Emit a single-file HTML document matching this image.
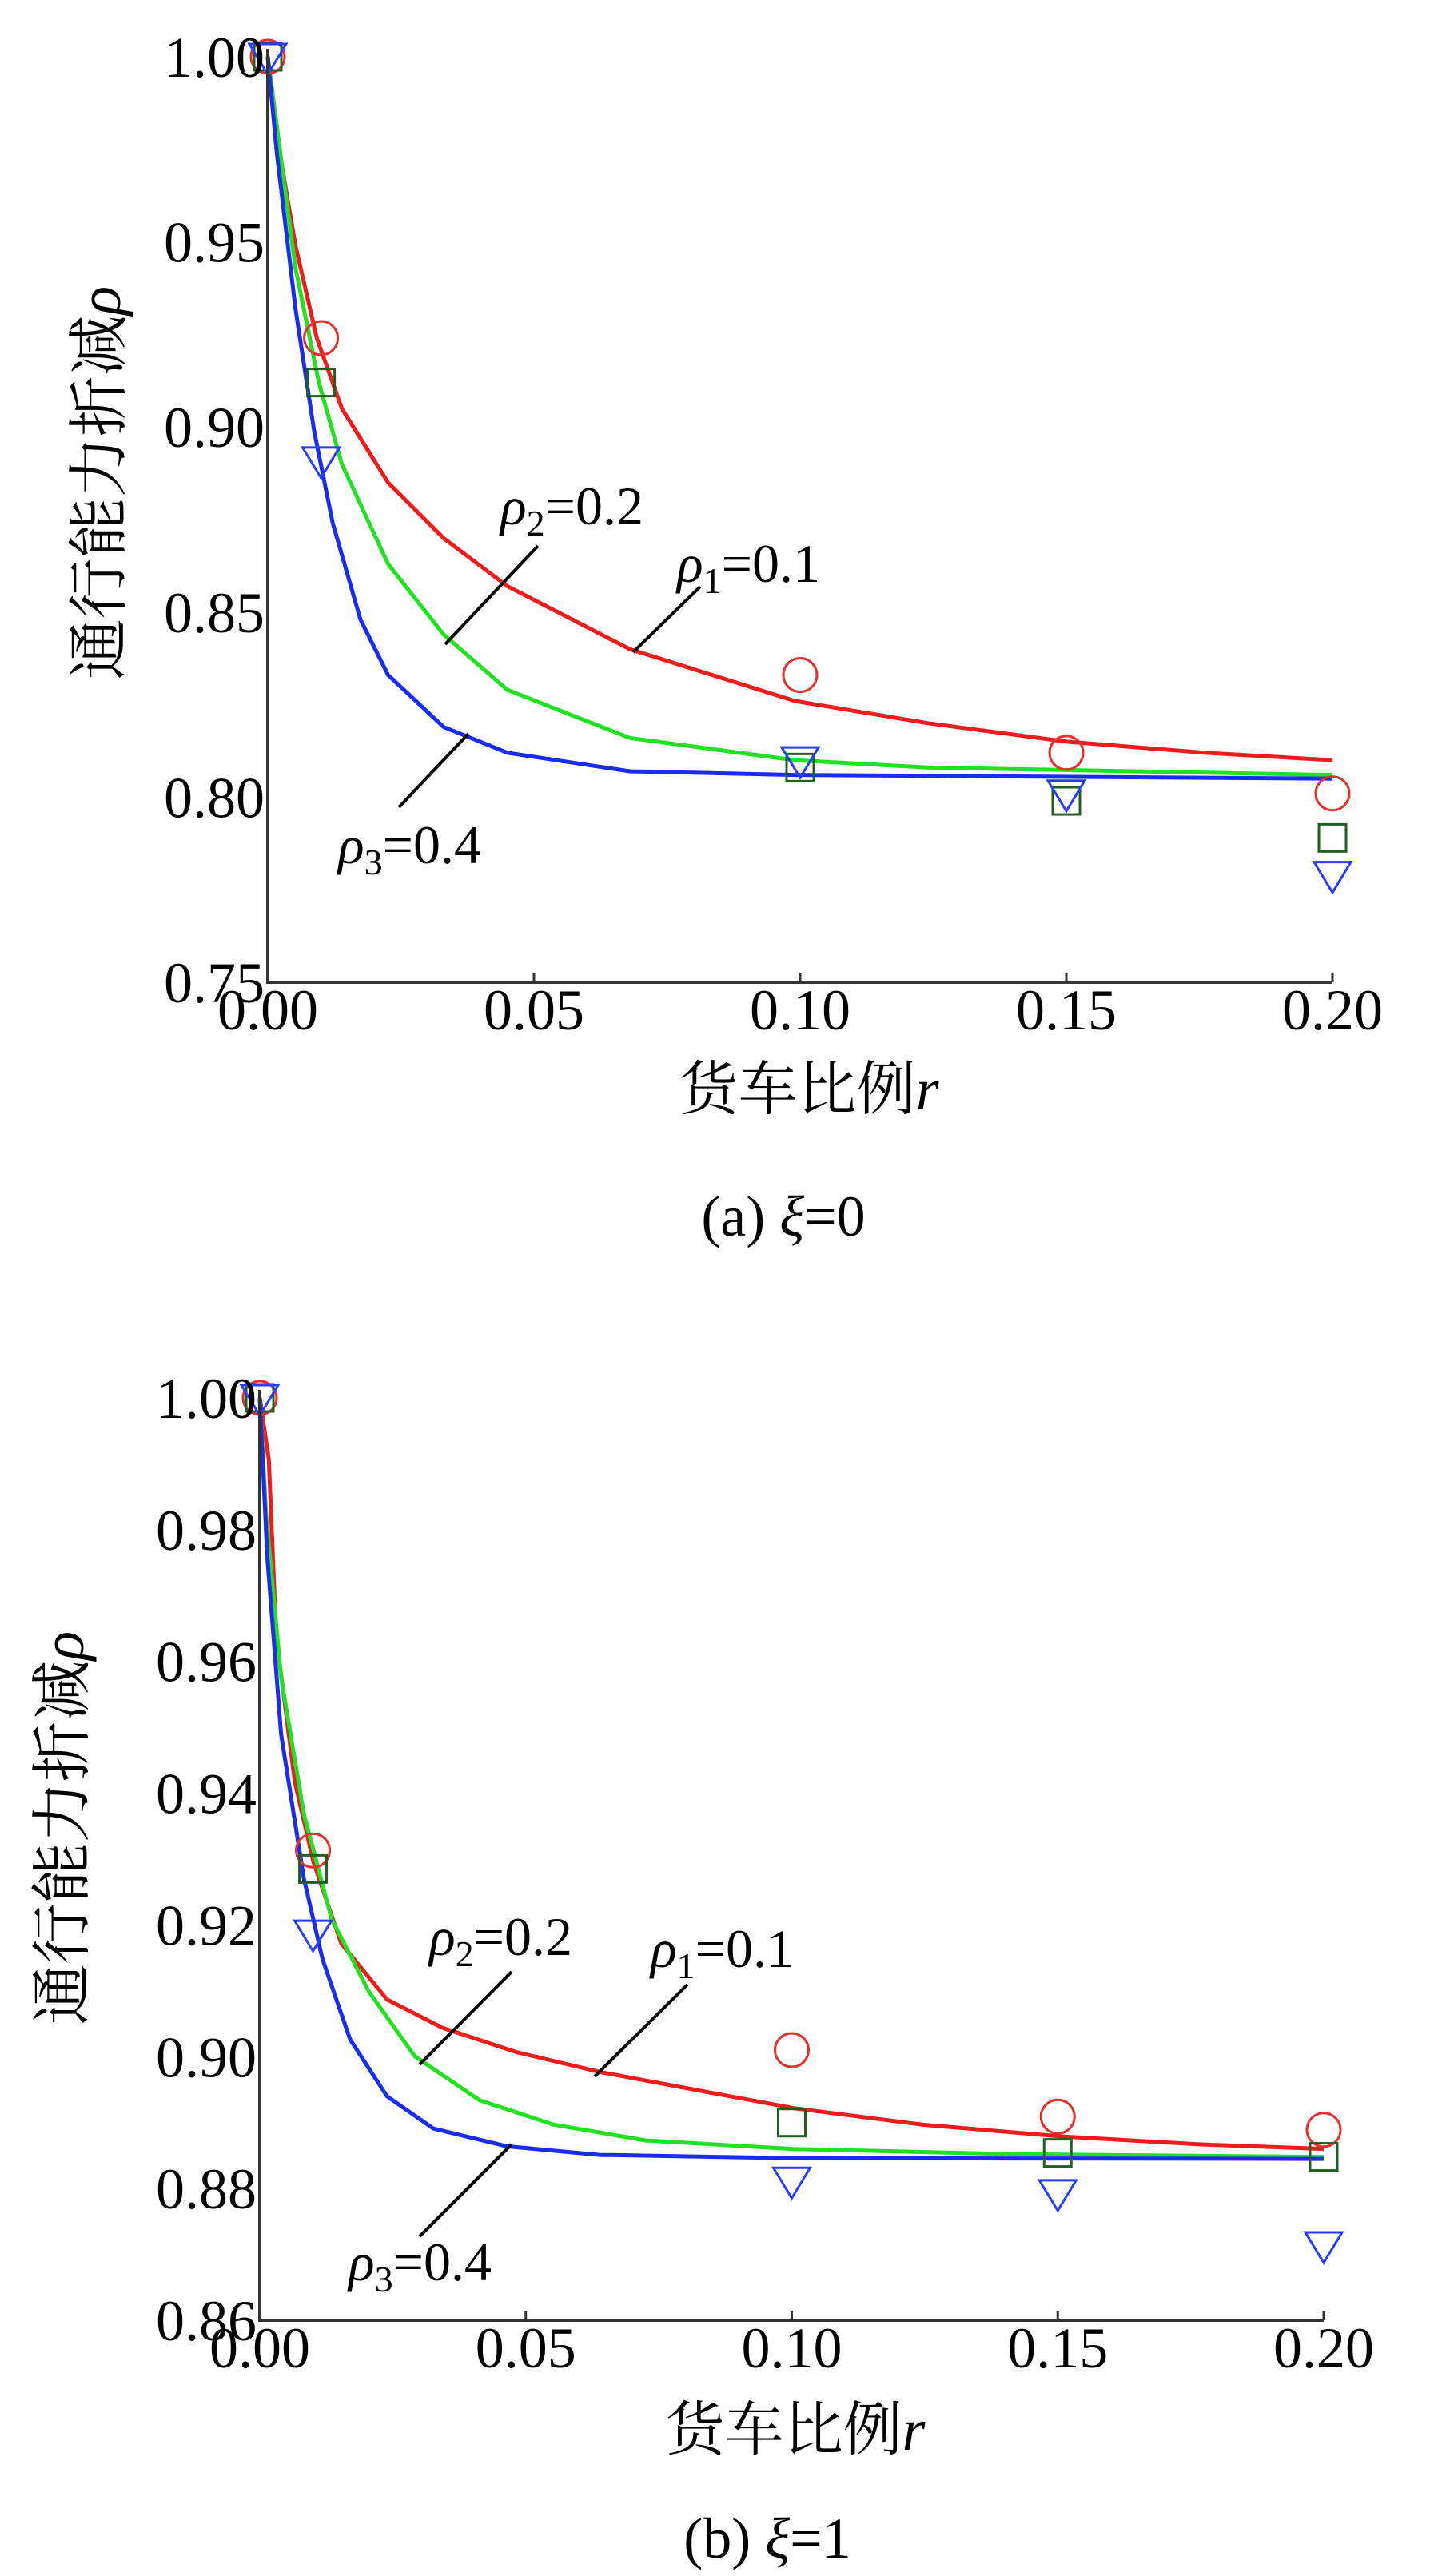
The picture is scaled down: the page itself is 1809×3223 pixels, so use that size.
<!DOCTYPE html>
<html><head><meta charset="utf-8"><style>
html,body{margin:0;padding:0;background:#fff;}
svg{display:block;}
text{font-family:"Liberation Serif","Noto Serif CJK SC",serif;fill:#000;}
.cjk{font-family:"Liberation Serif","Noto Serif CJK SC",serif;}
</style></head><body>
<svg id="fig" width="1809" height="3223" viewBox="0 0 1809 3223" xmlns="http://www.w3.org/2000/svg"></svg>
<script>
// ---- Chart (a) xi=0 data ----
const aRedR=[0,0.0026,0.0052,0.0092,0.0139,0.0226,0.033,0.045,0.068,0.099,0.124,0.150,0.176,0.2];
const aRedV=[1.0,0.971,0.949,0.924,0.905,0.885,0.870,0.857,0.840,0.826,0.820,0.815,0.812,0.810];
const aGreenR=[0,0.0026,0.0052,0.0096,0.0139,0.0226,0.033,0.045,0.068,0.099,0.124,0.2];
const aGreenV=[1.0,0.971,0.943,0.912,0.890,0.863,0.844,0.829,0.816,0.810,0.808,0.806];
const aBlueR=[0,0.0017,0.0052,0.0087,0.0122,0.0174,0.0226,0.033,0.045,0.068,0.099,0.2];
const aBlueV=[1.0,0.974,0.932,0.899,0.874,0.848,0.833,0.819,0.812,0.807,0.806,0.805];
const markR=[0,0.01,0.1,0.15,0.2];
const aCircV=[1.0,0.924,0.833,0.812,0.801];
const aSqV=[1.0,0.912,0.808,0.799,0.789];
const aTriV=[1.0,0.891,0.810,0.801,0.779];
const aYTicks=[0.75,0.80,0.85,0.90,0.95,1.00];
const xTicks=[0,0.05,0.10,0.15,0.20];
// ---- Chart (b) xi=1 data ----
const bRedR=[0,0.0017,0.0031,0.0066,0.0101,0.0153,0.0239,0.0343,0.0482,0.0638,0.1003,0.1245,0.1506,0.1766,0.2];
const bRedV=[1.0,0.9906,0.9637,0.9417,0.9295,0.9172,0.9087,0.9044,0.9007,0.8977,0.8922,0.8897,0.8879,0.8867,0.8860];
const bGreenR=[0,0.0012,0.004,0.0083,0.0135,0.0205,0.0291,0.0413,0.0552,0.0725,0.1003,0.142,0.2];
const bGreenV=[1.0,0.982,0.9576,0.9368,0.9209,0.9099,0.9001,0.8934,0.8897,0.8873,0.886,0.8852,0.8848];
const bBlueR=[0,0.0014,0.004,0.0083,0.0118,0.017,0.0239,0.0326,0.0465,0.0638,0.1003,0.2];
const bBlueV=[1.0,0.976,0.949,0.927,0.9148,0.9026,0.894,0.8891,0.8864,0.8851,0.8846,0.8845];
const bCircV=[1.0,0.9313,0.901,0.8909,0.8889];
const bSqV=[1.0,0.9285,0.890,0.8854,0.8848];
const bTriV=[1.0,0.9187,0.8812,0.8793,0.8714];
const bYTicks=[0.86,0.88,0.90,0.92,0.94,0.96,0.98,1.00];

const NS="http://www.w3.org/2000/svg";
const svg=document.getElementById('fig');
function mk(tag,attrs,parent){const e=document.createElementNS(NS,tag);for(const k in attrs)e.setAttribute(k,attrs[k]);(parent||svg).appendChild(e);return e;}

function chart(cfg){
  const g=mk('g',{});
  
  
  const X=r=>cfg.x0+(r-0)/(0.2)*(cfg.x1-cfg.x0);
  const Y=v=>cfg.yb-(v-cfg.vmin)/(cfg.vmax-cfg.vmin)*(cfg.yb-cfg.yt);
  [[cfg.rR,cfg.rV,'#ee1c1c','curve-rho1'],[cfg.gR,cfg.gV,'#22e022','curve-rho2'],[cfg.bR,cfg.bV,'#1a2cf0','curve-rho3']].forEach(c=>{
    const pts=c[0].map((r,i)=>X(r).toFixed(1)+','+Y(c[1][i]).toFixed(1)).join(' ');
    const p=mk('polyline',{points:pts,fill:'none',stroke:c[2],'stroke-width':5,'stroke-linejoin':'round'},g);
    
    
  });
  markR.forEach((r,i)=>{
    const cx=X(r);
    const c=mk('circle',{cx:cx,cy:Y(cfg.cV[i]),r:21,fill:'none',stroke:'#e53030','stroke-width':3},g);
    
    
    const sy=Y(cfg.sV[i]);
    const s=mk('rect',{x:cx-17,y:sy-17,width:34,height:34,fill:'none',stroke:'#1f5f1f','stroke-width':3},g);
    
    
    const ty=Y(cfg.tV[i]);
    const t=mk('polygon',{points:`${cx-23},${ty-16} ${cx+23},${ty-16} ${cx},${ty+22}`,fill:'none',stroke:'#2a3cff','stroke-width':3},g);
    
    
  });
  const ax=mk('path',{d:`M${cfg.x0},${cfg.yt-10} L${cfg.x0},${cfg.yb} L${cfg.x1},${cfg.yb}`,fill:'none',stroke:'#333','stroke-width':4},g);
  
  
  xTicks.forEach(t=>{
    const x=X(t);
    const tk=mk('line',{x1:x,y1:cfg.yb,x2:x,y2:cfg.yb-11,stroke:'#333','stroke-width':3},g);
    
    
    const tl=mk('text',{x:x,y:cfg.xly,'font-size':72,'text-anchor':'middle'},g);
    tl.textContent=t.toFixed(2);
    
    
  });
  cfg.yTicks.forEach(t=>{
    const y=Y(t);
    const tl=mk('text',{x:cfg.x0-4,y:y+25,'font-size':72,'text-anchor':'end'},g);
    tl.textContent=t.toFixed(2);
    
    
  });
  const xt=mk('text',{x:cfg.xtx,y:cfg.xty,'font-size':74,'text-anchor':'middle',class:'cjk'},g);
  xt.innerHTML='货车比例<tspan font-style="italic" font-family="Liberation Serif">r</tspan>';
  
  
  const yt=mk('text',{x:0,y:0,'font-size':76,'text-anchor':'middle',class:'cjk',transform:`translate(${cfg.ytx},${cfg.yty}) rotate(-90)`},g);
  yt.innerHTML='通行能力折减<tspan font-style="italic" font-family="Liberation Serif">ρ</tspan>';
  
  
  const cap=mk('text',{x:cfg.capx,y:cfg.capy,'font-size':72,'text-anchor':'middle'},g);
  cap.innerHTML=cfg.cap;
  
  
  cfg.ann.forEach(a=>{
    const l=mk('line',{x1:a.l[0],y1:a.l[1],x2:a.l[2],y2:a.l[3],stroke:'#000','stroke-width':4},g);
    
    
    const t=mk('text',{x:a.x,y:a.y,'font-size':68},g);
    t.innerHTML=`<tspan font-style="italic">ρ</tspan><tspan font-size="46" dy="14">${a.s}</tspan><tspan dy="-14">=${a.v}</tspan>`;
    
    
  });
}

chart({name:'chart-a',x0:335,x1:1667,yt:71,yb:1229,vmin:0.75,vmax:1.0,
  rR:aRedR,rV:aRedV,gR:aGreenR,gV:aGreenV,bR:aBlueR,bV:aBlueV,cV:aCircV,sV:aSqV,tV:aTriV,yTicks:aYTicks,
  xly:1288,xtx:1012,xty:1388,ytx:150,yty:604,capx:980,capy:1546,cap:'(a) <tspan font-style="italic">ξ</tspan>=0',
  ann:[{x:626,y:656,s:'2',v:'0.2',l:[673,683,557,806]},{x:847,y:728,s:'1',v:'0.1',l:[876,734,792,816]},{x:423,y:1080,s:'3',v:'0.4',l:[586,918,499,1010]}]});
chart({name:'chart-b',x0:325,x1:1656,yt:1749,yb:2903,vmin:0.86,vmax:1.0,
  rR:bRedR,rV:bRedV,gR:bGreenR,gV:bGreenV,bR:bBlueR,bV:bBlueV,cV:bCircV,sV:bSqV,tV:bTriV,yTicks:bYTicks,
  xly:2962,xtx:995,xty:3065,ytx:104,yty:2287,capx:960,capy:3200,cap:'(b) <tspan font-style="italic">ξ</tspan>=1',
  ann:[{x:537,y:2446,s:'2',v:'0.2',l:[640,2467,525,2583]},{x:814,y:2461,s:'1',v:'0.1',l:[860,2483,744,2598]},{x:436,y:2853,s:'3',v:'0.4',l:[640,2683,525,2798]}]});
</script>
</body></html>
